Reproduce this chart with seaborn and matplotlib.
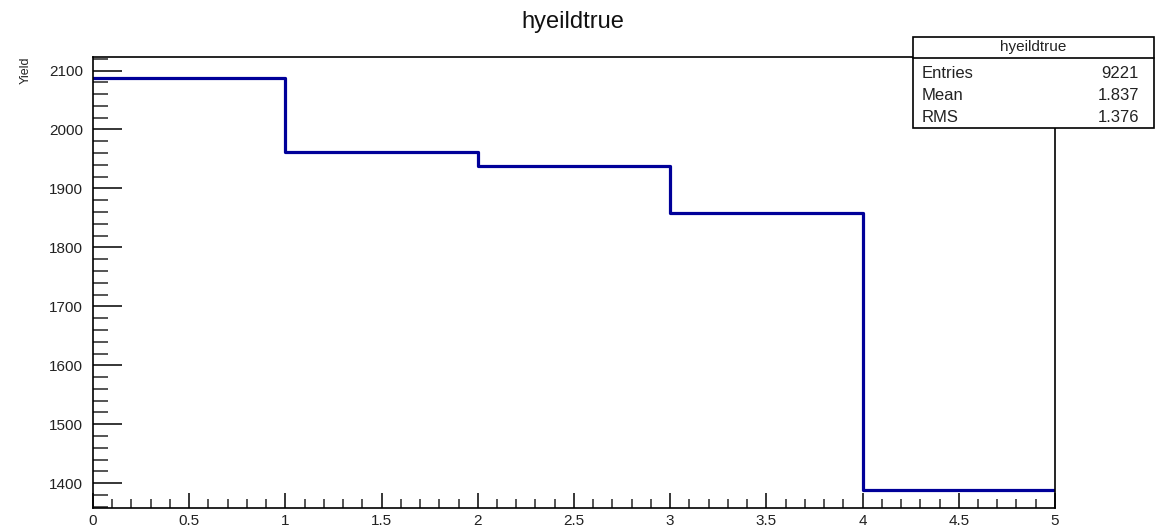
import numpy as np
import pandas as pd
import matplotlib
matplotlib.use("Agg")
import matplotlib.pyplot as plt
from matplotlib.patches import Rectangle
from matplotlib.ticker import MultipleLocator
import seaborn as sns

# Data
bin_edges = [0, 1, 2, 3, 4, 5]
bin_low = [0, 1, 2, 3, 4]
yields = [2088, 1961, 1938, 1859, 1388]
title = "hyeildtrue"
y_label = "Yield"
stats_names = ["Entries", "Mean", "RMS"]
stats_values = ["9221", "1.837", "1.376"]

sns.set_theme(style="white")
plt.rcParams["font.family"] = ["Liberation Sans", "DejaVu Sans"]

df = pd.DataFrame({"x": bin_low, "w": yields})

fig = plt.figure(figsize=(11.56, 5.31), dpi=100)
ax = fig.add_axes([0.0804, 0.0433, 0.9126 - 0.0804, 0.8927 - 0.0433])

sns.histplot(data=df, x="x", weights="w", bins=bin_edges, element="step",
             fill=False, color="#000099", linewidth=2.3, ax=ax)

ax.set_xlim(0, 5)
ax.set_ylim(1358, 2123)
ax.set_xlabel("")
ax.set_ylabel("")

ax.xaxis.set_major_locator(MultipleLocator(0.5))
ax.xaxis.set_minor_locator(MultipleLocator(0.1))
ax.yaxis.set_major_locator(MultipleLocator(100))
ax.yaxis.set_minor_locator(MultipleLocator(20))
ax.set_xticks([0, 0.5, 1, 1.5, 2, 2.5, 3, 3.5, 4, 4.5, 5])
ax.set_xticklabels(["0", "0.5", "1", "1.5", "2", "2.5", "3", "3.5", "4", "4.5", "5"])
ax.tick_params(axis="x", which="major", direction="in", length=11, width=1.1,
               labelsize=11, pad=4, colors="black", bottom=True)
ax.tick_params(axis="x", which="minor", direction="in", length=6.5, width=1.1, bottom=True)
ax.tick_params(axis="y", which="major", direction="in", length=21, width=1.1,
               labelsize=11, pad=7, colors="black", left=True)
ax.tick_params(axis="y", which="minor", direction="in", length=11, width=1.1, left=True)
for lbl in ax.get_xticklabels() + ax.get_yticklabels():
    lbl.set_color("#222222")
for s in ax.spines.values():
    s.set_color("black")
    s.set_linewidth(1.2)

fig.text(573 / 1156, 0.958, title, ha="center", va="center", fontsize=17, color="#111111")
fig.text(26 / 1156, 1 - 57 / 531, y_label, rotation=90, ha="center", va="top",
         fontsize=9, color="#222222")

# Stats box
x0, x1 = 913 / 1156, 1154 / 1156
y_top, y_mid, y_bot = 1 - 37 / 531, 1 - 58 / 531, 1 - 128 / 531
fig.patches.append(Rectangle((x0, y_bot), x1 - x0, y_top - y_bot, transform=fig.transFigure,
                             fill=True, facecolor="white", edgecolor="black", linewidth=1.2,
                             zorder=10))
fig.add_artist(plt.Line2D([x0, x1], [y_mid, y_mid], transform=fig.transFigure,
                          color="black", linewidth=1.2, zorder=11))
fig.text((x0 + x1) / 2, 1 - 47 / 531, title, ha="center", va="center", fontsize=11,
         color="#222222", zorder=12)
rows_y = [73, 95, 117]
for name, val, ry in zip(stats_names, stats_values, rows_y):
    fig.text(922 / 1156, 1 - ry / 531, name, ha="left", va="center", fontsize=12,
             color="#222222", zorder=12)
    fig.text(1139 / 1156, 1 - ry / 531, val, ha="right", va="center", fontsize=12,
             color="#222222", zorder=12)

fig.savefig("out.png", dpi=100)
